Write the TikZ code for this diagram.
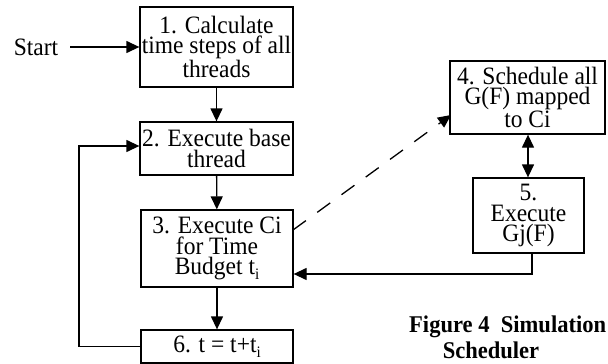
\documentclass[tikz,border=0pt]{standalone}
\usepackage{fontspec}
\setmainfont[FakeStretch=0.94]{Liberation Serif}
\usetikzlibrary{arrows.meta,calc}

\newcommand{\subi}{\raisebox{-5pt}{\fontsize{16}{16}\selectfont i}}

\tikzset{
  stepbox/.style={draw, line width=1.3pt, inner sep=0pt, align=center,
    font=\fontsize{25}{20.5}\selectfont},
  flow/.style={line width=1.3pt, -{Triangle[length=13pt,width=12pt]}},
  dflow/.style={line width=1.3pt, {Triangle[length=13pt,width=12pt]}-{Triangle[length=13pt,width=12pt]}},
  dashflow/.style={flow, dash pattern=on 16pt off 14pt},
  captionfont/.style={font=\fontsize{24}{26}\selectfont\bfseries}
}

\begin{document}
\begin{tikzpicture}[x=1pt, y=-1pt]
  \useasboundingbox (0,0) rectangle (608,364);

  % Main column
  \node[stepbox, minimum width=153pt, minimum height=80pt] (b1) at (216.5,47)
    {1. Calculate\\time steps of all\\threads};
  \node[stepbox, minimum width=153pt, minimum height=53pt] (b2) at (216.5,148.5)
    {2. Execute base\\thread};
  \node[stepbox, minimum width=152pt, minimum height=77pt] (b3) at (217,248.5)
    {3. Execute Ci\\for Time\\Budget t\subi};
  \node[stepbox, minimum width=152pt, minimum height=33pt] (b6) at (217,346.5)
    {6. t = t+t\subi};

  % Side column
  \node[stepbox, minimum width=155pt, minimum height=73pt] (b4) at (527.5,97.5)
    {4. Schedule all\\G(F) mapped\\to Ci};
  \node[stepbox, minimum width=111pt, minimum height=75pt] (b5) at (528.5,215.5)
    {5.\\Execute\\Gj(F)};

  % Start label
  \node[font=\fontsize{25}{20}\selectfont, inner sep=0pt] (start) at (36,47) {Start};
  \coordinate (s0) at (70,47);

  % Helper points
  \coordinate (lp) at (79,146);
  \coordinate (ret) at (532,274);
  \coordinate (d0) at (293,230);
  \coordinate (d1) at (451,115);

  % Connectors
  \draw[flow] (s0) -- (b1.west);
  \draw[flow] (b1) -- (b2);
  \draw[flow] (b2) -- (b3);
  \draw[flow] (b3) -- (b6);
  \draw[flow] (b6.west) -| (lp) -- (b2.west |- lp);
  \draw[dflow] (b4.south -| 528,0) -- (b5.north -| 528,0);
  \draw[flow] (b5.south -| ret) |- (b3.east |- ret);
  \draw[dashflow] (d0) -- (d1);

  % Caption
  \node[captionfont, anchor=base west, inner sep=0pt] (cap1) at (409,332) {Figure 4\ \ Simulation};
  \node[captionfont, anchor=base, inner sep=0pt] (cap2) at (491,358) {Scheduler};
\end{tikzpicture}
\end{document}
